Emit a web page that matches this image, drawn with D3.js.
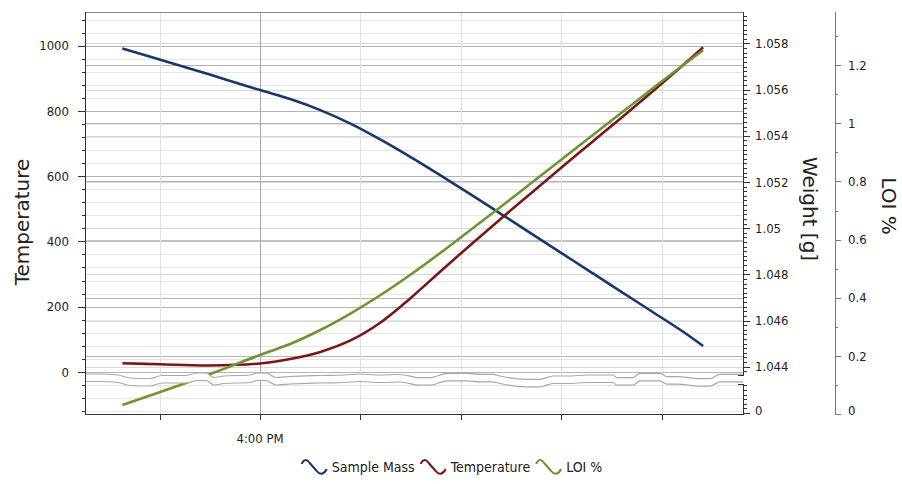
<!DOCTYPE html>
<html><head><meta charset="utf-8">
<script src="https://cdn.jsdelivr.net/npm/d3@7"></script>
<style>
body{margin:0;background:#fff}
svg{display:block}
text{font-family:"DejaVu Sans Condensed","DejaVu Sans",sans-serif;fill:#222}
.title{font-family:"DejaVu Sans",sans-serif;font-size:20px;fill:#222}
</style></head><body>
<svg id="c" width="902" height="484"></svg>
<script>
// ---------- data ----------
const times = ["15:46:18","15:50:00","15:55:00","16:00:00","16:03:00","16:06:00","16:09:00","16:12:00","16:15:00","16:18:00","16:21:00","16:24:00","16:27:00","16:30:00","16:33:00","16:36:00","16:39:00","16:42:00","16:44:06"];
const sampleMass = [1.057784,1.057307,1.056649,1.055978,1.055589,1.055113,1.054528,1.053835,1.053078,1.052277,1.051455,1.050610,1.049766,1.048922,1.048078,1.047234,1.046390,1.045545,1.044896];
const temperature = [26.5,23.4,19.8,25.9,39.7,61.2,96.4,151.6,226.7,309.4,390.7,470.3,548.5,626.7,703.3,779.9,858.1,937.8,995];
const loiPct = [0.031,0.0746,0.1369,0.203,0.2408,0.289,0.3457,0.4094,0.4799,0.5556,0.6347,0.7138,0.7947,0.8755,0.9563,1.0372,1.118,1.1972,1.2512];
const seriesNames = ["Sample Mass","Temperature","LOI %"];

const xDomain = ["15:42:35","16:48:04"];
const tempDomain = [-129, 1103];
const weightUpperDomain = [1.04362, 1.05936];
const weightLowerDomain = [0, 0.0013];
const loiDomain = [0, 1.383];

const tempTicks = [0,200,400,600,800,1000];
const weightTicks = [1.044,1.046,1.048,1.05,1.052,1.054,1.056,1.058];
const loiTicks = [0,0.2,0.4,0.6,0.8,1,1.2];
const xLabel = "4:00 PM";

// decorative axis-break wave (x, dy)
const breakWave = [[85,-1],[100,-1],[118,0],[130,3],[150,3.5],[162,0.5],[185,0.5],[198,-2],[206,-2],[214,2.5],[224,1],[250,0],[258,-2],[266,-2],[276,2.5],[290,1.5],[320,0.5],[345,0],[360,-1],[380,0],[400,-0.5],[420,2.7],[430,2.7],[447,-1.7],[467,-1.7],[480,-0.7],[493,-0.7],[500,1],[527,4.3],[540,4.3],[553,1],[567,1],[587,0],[613,0],[617,2.7],[633,2.7],[640,-1.7],[660,-1.7],[667,1.7],[677,1.7],[700,3.7],[710,3.7],[720,-0.7],[743,-0.7]];

// ---------- layout ----------
const L = 85, R = 743, T = 12, B = 414;
const breakTop = 375.5, breakBot = 384;
const loiAxisX = 835;
const colors = ["#17386b","#7a1616","#6e9531"];

const parse = d3.timeParse("%H:%M:%S");
const x = d3.scaleTime().domain(xDomain.map(parse)).range([L, R]);
const yT = d3.scaleLinear().domain(tempDomain).range([B, T]);
const yW = d3.scaleLinear().domain(weightUpperDomain).range([breakTop, T]);
const yW0 = d3.scaleLinear().domain(weightLowerDomain).range([B, breakBot]);
const yL = d3.scaleLinear().domain(loiDomain).range([B, T]);

const svg = d3.select("#c");
const g = svg.append("g");

// ---------- grid ----------
const grid = g.append("g");
const hline = (y, c, w) => grid.append("line").attr("x1", L).attr("x2", R).attr("y1", y).attr("y2", y)
  .attr("stroke", c).attr("stroke-width", w || 1).attr("shape-rendering","crispEdges");
d3.range(-120, 1101, 40).filter(v => v % 200 !== 0).forEach(v => hline(Math.round(yT(v))+0.5, "#e6e6e6"));
weightTicks.forEach(v => hline(Math.round(yW(v))+0.5, "#d8d8d8"));
loiTicks.filter(v => v > 0).forEach(v => hline(Math.round(yL(v))+0.5, "#b4b4b4"));
tempTicks.forEach(v => hline(v === 400 ? Math.round(yT(v)) : Math.round(yT(v))+0.5, v === 400 ? "#c2c2c2" : "#b4b4b4", v === 400 ? 2 : 1));
const xTicks = x.ticks(d3.timeMinute.every(10));
xTicks.forEach(t => {
  const major = t.getMinutes() === 0;
  grid.append("line").attr("x1", Math.round(x(t))+0.5).attr("x2", Math.round(x(t))+0.5).attr("y1", T).attr("y2", B)
    .attr("stroke", major ? "#a8a8a8" : "#e0e0e0").attr("shape-rendering","crispEdges");
});

// ---------- series ----------
const rows = times.map((t, i) => ({t: parse(t), w: sampleMass[i], temp: temperature[i], loi: loiPct[i]}));
const curve = d3.curveCatmullRom.alpha(0.5);
const lines = [
  d3.line().x(d => x(d.t)).y(d => yW(d.w)).curve(curve),
  d3.line().x(d => x(d.t)).y(d => yT(d.temp)).curve(curve),
  d3.line().x(d => x(d.t)).y(d => yL(d.loi)).curve(curve)
];
lines.forEach((ln, i) => g.append("path").attr("d", ln(rows)).attr("fill","none")
  .attr("stroke", colors[i]).attr("stroke-width", 2.6).attr("stroke-linecap","butt"));

// ---------- axis break band ----------
const gap = 7.5, base = 375;
const topPts = breakWave.map(([px, dy]) => [px, base + dy]);
const botPts = breakWave.map(([px, dy]) => [px, base + dy + gap]);
const wl = d3.line().curve(d3.curveMonotoneX);
g.append("path").attr("d", wl(topPts) + "L" + wl(botPts.slice().reverse()).slice(1) + "Z").attr("fill", "#fff");
g.append("path").attr("d", wl(topPts)).attr("fill","none").attr("stroke","#a8a8a8").attr("stroke-width",1.2);
g.append("path").attr("d", wl(botPts)).attr("fill","none").attr("stroke","#a8a8a8").attr("stroke-width",1.2);

// ---------- axes ----------
const ax = svg.append("g").attr("shape-rendering","crispEdges");
const seg = (x1,y1,x2,y2,c,w) => ax.append("line").attr("x1",x1).attr("y1",y1).attr("x2",x2).attr("y2",y2).attr("stroke",c).attr("stroke-width",w||1);
seg(L, T+0.5, R, T+0.5, "#8a8a8a");
seg(L, B+0.5, R+1, B+0.5, "#333");
xTicks.forEach(t => seg(Math.round(x(t))+0.5, B, Math.round(x(t))+0.5, B+6, "#333"));
xTicks.filter(t => t.getMinutes() === 0).forEach(t =>
  svg.append("text").attr("x", x(t)).attr("y", 443).attr("text-anchor","middle").style("font-size","13px").text(xLabel));

seg(L+0.5, T, L+0.5, B+1, "#333");
d3.range(-120, 1101, 40).forEach(v => {
  const y = Math.round(yT(v)) + 0.5, major = v % 200 === 0;
  seg(L - (major ? 7 : 3), y, L, y, "#333");
});
tempTicks.forEach(v => svg.append("text").attr("x", 69).attr("y", yT(v)).attr("dy","0.36em")
  .attr("text-anchor","end").style("font-size","13px").text(v));

seg(R+0.5, T, R+0.5, breakTop, "#333");
seg(R+0.5, breakBot, R+0.5, B+1, "#333");
d3.range(0, 80).map(i => +(1.0438 + i*0.0002).toFixed(4)).filter(v => v <= weightUpperDomain[1]).forEach(v => {
  const y = Math.round(yW(v)) + 0.5;
  const major = weightTicks.some(m => Math.abs(m - v) < 1e-7);
  seg(R, y, R + (major ? 7 : 4), y, "#333");
});
d3.range(0, 7).map(i => i*0.0002).forEach((v, i) => {
  const y = Math.round(yW0(v)) - 0.5;
  seg(R, y, R + (i === 0 ? 7 : 4), y, "#333");
});
seg(R-5, breakTop, R+0.5, breakTop, "#333");
seg(R-5, breakBot, R+0.5, breakBot, "#333");
weightTicks.forEach(v => svg.append("text").attr("x", 755).attr("y", yW(v)).attr("dy","0.36em")
  .style("font-size","13px").text(String(+v.toFixed(3))));
svg.append("text").attr("x", 755).attr("y", yW0(0)).attr("dy","0.1em").style("font-size","13px").text("0");

seg(loiAxisX+0.5, T, loiAxisX+0.5, B+1, "#777");
d3.range(0, 14).map(i => +(i*0.1).toFixed(1)).forEach(v => {
  const y = Math.round(yL(v)) + 0.5;
  const major = Math.round(v*10) % 2 === 0;
  seg(loiAxisX, y, loiAxisX + (major ? 6 : 3), y, "#777");
});
loiTicks.forEach(v => svg.append("text").attr("x", 848).attr("y", yL(v)).attr("dy", v === 0 ? "0.1em" : "0.36em")
  .style("font-size","13px").text(String(+v.toFixed(1))));

svg.append("text").attr("class","title").attr("transform","translate(29,222) rotate(-90)").attr("text-anchor","middle").text("Temperature");
svg.append("text").attr("class","title").attr("transform","translate(803,209) rotate(90)").attr("text-anchor","middle").text("Weight [g]");
svg.append("text").attr("class","title").attr("transform","translate(882,206) rotate(90)").attr("text-anchor","middle").text("LOI %");

// ---------- legend ----------
const lg = svg.append("g");
let cx = 0;
seriesNames.forEach((name, i) => {
  const it = lg.append("g").attr("transform", `translate(${cx},0)`);
  it.append("path").attr("d","M0,4 C2,-1 5,-1 8,3 L15,11 C18,15 22,15 25,9")
    .attr("fill","none").attr("stroke", colors[i]).attr("stroke-width", 2);
  const tx = it.append("text").attr("x", 30).attr("y", 12).style("font-size","14px").text(name);
  cx += 30 + tx.node().getComputedTextLength() + 6;
});
const lw = cx - 6;
lg.attr("transform", `translate(${452 - lw/2},460)`);
</script>
</body></html>
